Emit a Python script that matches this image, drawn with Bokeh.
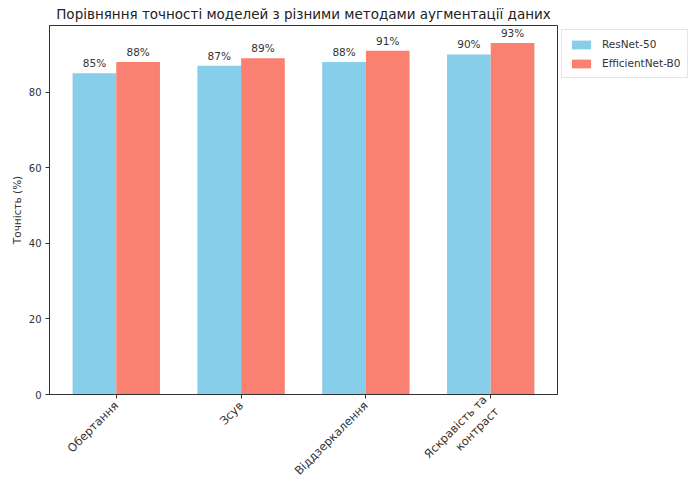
from bokeh.plotting import figure
from bokeh.models import ColumnDataSource, FixedTicker, Range1d, Legend, LegendItem
from bokeh.transform import dodge
from bokeh.core.properties import value
from bokeh.embed import file_html
from bokeh.resources import INLINE
import math

categories = ["Обертання", "Зсув", "Віддзеркалення", "Яскравість та\nконтраст"]
resnet = [85, 87, 88, 90]
effnet = [88, 89, 91, 93]
series_names = ["ResNet-50", "EfficientNet-B0"]
y_ticks = [0, 20, 40, 60, 80]

idx = list(range(len(categories)))
src = ColumnDataSource(dict(
    x=idx, r=resnet, e=effnet,
    rl=[f"{v}%" for v in resnet], el=[f"{v}%" for v in effnet],
))

FONT = "DejaVu Sans"
p = figure(frame_width=508, frame_height=369, output_backend="svg", toolbar_location=None,
           title="Порівняння точності моделей з різними методами аугментації даних",
           x_range=Range1d(-0.535, 3.535), y_range=Range1d(0, 97.65),
           min_border_left=49, min_border_right=4, min_border_top=0, min_border_bottom=80)
p.title.text_font = FONT
p.title.text_font_size = "13.5px"
p.title.text_font_style = "normal"
p.title.align = "center"
p.title.text_color = "#222222"
p.title.standoff = 7

w = 0.35
rb = p.vbar(x=dodge("x", -w / 2, range=p.x_range), top="r", width=w, source=src,
            fill_color="#87CEEB", line_color=None)
eb = p.vbar(x=dodge("x", w / 2, range=p.x_range), top="e", width=w, source=src,
            fill_color="#FA8072", line_color=None)
for col, lab, off in (("r", "rl", -w / 2), ("e", "el", w / 2)):
    p.text(x=dodge("x", off, range=p.x_range), y=col, text=lab, source=src,
           text_align="center", text_baseline="bottom", y_offset=-4,
           text_font=value(FONT), text_font_size="10.5px", text_color="#333333")

p.grid.visible = False
p.outline_line_color = "#333333"
p.outline_line_width = 1

p.xaxis.ticker = FixedTicker(ticks=idx)
p.xaxis.major_label_overrides = {i: c for i, c in enumerate(categories)}
p.xaxis.major_label_orientation = math.pi / 4
p.yaxis.ticker = FixedTicker(ticks=y_ticks)
p.yaxis.axis_label = "Точність (%)"
for ax in (p.xaxis, p.yaxis):
    ax.minor_tick_line_color = None
    ax.major_tick_in = 0
    ax.major_tick_out = 4
    ax.axis_line_color = "#333333"
    ax.major_tick_line_color = "#333333"
    ax.major_label_text_font = FONT
    ax.major_label_text_color = "#333333"
    ax.axis_label_text_font = FONT
    ax.axis_label_text_font_size = "10.5px"
    ax.axis_label_text_font_style = "normal"
    ax.axis_label_text_color = "#333333"
p.xaxis.major_label_text_font_size = "11.5px"
p.yaxis.major_label_text_font_size = "10px"
p.yaxis.axis_label_standoff = 3
p.yaxis.major_label_standoff = 4

legend = Legend(items=[LegendItem(label=series_names[0], renderers=[rb]),
                       LegendItem(label=series_names[1], renderers=[eb])],
                location="top_left", label_text_font=FONT, label_text_font_size="10.5px",
                label_text_color="#333333", border_line_color="#cccccc",
                glyph_width=24, glyph_height=11, label_height=14, spacing=5,
                label_standoff=9, padding=7, margin=4)
p.add_layout(legend, "right")

open("out.html", "w").write(file_html(p, INLINE))
